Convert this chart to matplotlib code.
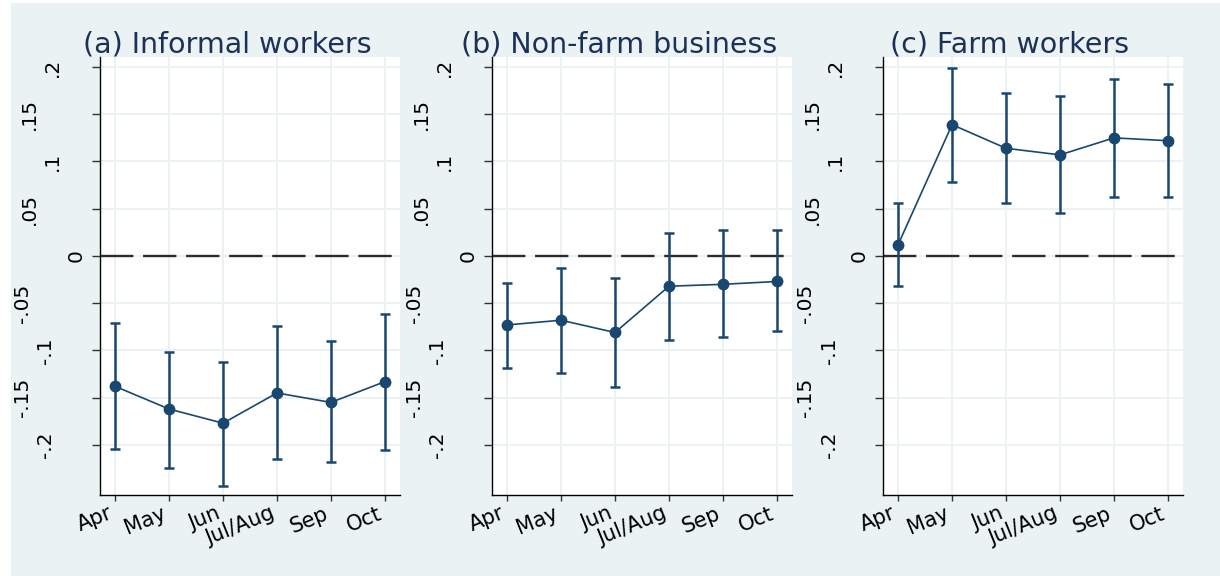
import matplotlib
matplotlib.use("Agg")
import matplotlib.pyplot as plt
import matplotlib.transforms as mtransforms
from matplotlib.patches import Rectangle

# Survey months (x axis categories)
months = ["Apr", "May", "Jun", "Jul/Aug", "Sep", "Oct"]

# Point estimates and 95% confidence bounds per group
informal_est = [-0.138, -0.162, -0.177, -0.145, -0.155, -0.133]
informal_lo = [-0.204, -0.224, -0.243, -0.215, -0.218, -0.205]
informal_hi = [-0.071, -0.102, -0.112, -0.074, -0.090, -0.061]

nonfarm_est = [-0.073, -0.068, -0.081, -0.032, -0.030, -0.027]
nonfarm_lo = [-0.119, -0.124, -0.139, -0.089, -0.086, -0.079]
nonfarm_hi = [-0.029, -0.013, -0.023, 0.024, 0.027, 0.027]

farm_est = [0.012, 0.139, 0.114, 0.107, 0.125, 0.122]
farm_lo = [-0.032, 0.078, 0.056, 0.046, 0.062, 0.062]
farm_hi = [0.056, 0.199, 0.173, 0.169, 0.187, 0.182]

titles = ["(a) Informal workers", "(b) Non-farm business", "(c) Farm workers"]
y_ticks = [-0.2, -0.15, -0.1, -0.05, 0, 0.05, 0.1, 0.15, 0.2]

NAVY = "#1A476F"
BG = "#EAF2F3"
TITLE_C = "#1C3158"

plt.rcParams["font.family"] = ["DejaVu Sans"]
plt.rcParams["lines.scale_dashes"] = False

W, H = 1220, 576
fig = plt.figure(figsize=(W / 100, H / 100), dpi=100, facecolor="white")

# graph region background
fig.patches.append(Rectangle((11 / W, 0), 1 - 11 / W, 1 - 3 / H,
                             transform=fig.transFigure, facecolor=BG,
                             edgecolor="none", zorder=-10))

lefts_px = [100, 492, 883]
width_px = 300
top_px, bottom_px = 57, 495


def stata_label(v):
    if abs(v) < 1e-12:
        return "0"
    s = f"{v:g}"
    return s.replace("0.", ".")


def label_gap_px(s):
    digits = sum(ch.isdigit() for ch in s)
    return 18 + 23.5 * (digits - 1) + 24 * ("." in s) + 6.5 * ("-" in s)


series = [
    (informal_est, informal_lo, informal_hi),
    (nonfarm_est, nonfarm_lo, nonfarm_hi),
    (farm_est, farm_lo, farm_hi),
]

x = list(range(1, len(months) + 1))

for i, (est, lo, hi) in enumerate(series):
    ax = fig.add_axes([lefts_px[i] / W, 1 - bottom_px / H,
                       width_px / W, (bottom_px - top_px) / H])
    ax.set_facecolor("white")
    ax.set_xlim(0.72, 6.28)
    ax.set_ylim(-0.253, 0.2106)

    for s in ["top", "right"]:
        ax.spines[s].set_visible(False)
    for s in ["left", "bottom"]:
        ax.spines[s].set_color("black")
        ax.spines[s].set_linewidth(1.0)

    ax.set_yticks(y_ticks)
    ax.set_xticks(x)
    ax.grid(True, color=BG, linewidth=1.4)
    ax.set_axisbelow(True)

    ax.tick_params(axis="y", length=6, width=1.0, color="#333333",
                   labelleft=False)
    ax.tick_params(axis="x", length=4, width=1.0, color="#333333", pad=2)
    ax.set_xticklabels(months, rotation=22, ha="right", va="top",
                       fontsize=15, color="black")

    # rotated y labels
    for v in y_ticks:
        lab = stata_label(v)
        gap_pt = label_gap_px(lab) * 0.72
        tr = mtransforms.offset_copy(ax.get_yaxis_transform(), fig=fig,
                                     x=-gap_pt, y=0, units="points")
        ax.text(0, v, lab, transform=tr, rotation=90, rotation_mode="anchor",
                ha="center", va="baseline", fontsize=14.5, color="black",
                clip_on=False)

    # zero reference line
    zl = ax.axhline(0, color="#2b2b2b", linewidth=1.7, zorder=2)
    zl.set_dashes((24, 7))

    # confidence intervals
    lower_err = [e - l for e, l in zip(est, lo)]
    upper_err = [h - e for e, h in zip(est, hi)]
    ax.errorbar(x, est, yerr=[lower_err, upper_err], fmt="none",
                ecolor=NAVY, elinewidth=1.8, capsize=3.4, capthick=1.8,
                zorder=3)
    ax.plot(x, est, color=NAVY, linewidth=1.2, marker="o", markersize=7.5,
            markerfacecolor=NAVY, markeredgecolor=NAVY, zorder=4)

    # panel title
    cx = (lefts_px[i] + width_px / 2 - 23) / W
    fig.text(cx, 1 - 52 / H, titles[i], ha="center", va="baseline",
             fontsize=20.5, color=TITLE_C)

fig.savefig("out.png", dpi=100, facecolor=fig.get_facecolor())
